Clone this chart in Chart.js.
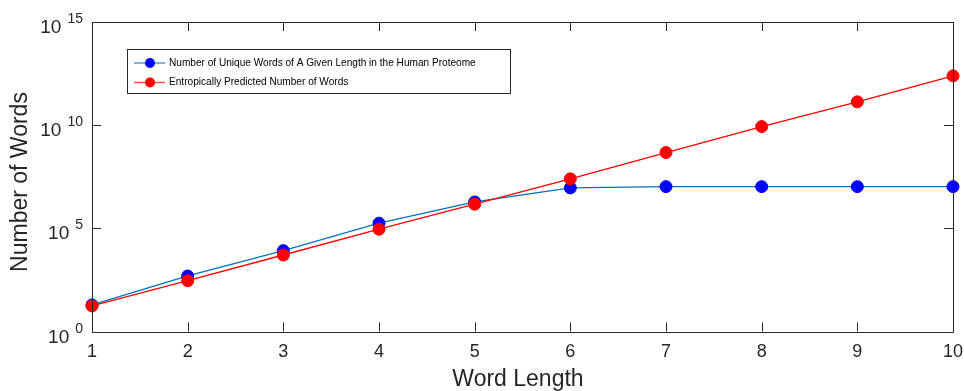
<!DOCTYPE html>
<html>
<head>
<meta charset="utf-8">
<script src="https://cdn.jsdelivr.net/npm/chart.js@4/dist/chart.umd.min.js"></script>
<style>
html,body{margin:0;padding:0;background:#fff;}
#wrap{width:964px;height:391px;position:relative;}
</style>
</head>
<body>
<div id="wrap"><canvas id="c" width="964" height="391"></canvas></div>
<script>
const wordLengths = [1, 2, 3, 4, 5, 6, 7, 8, 9, 10];
const uniqueWords = [19.5, 490, 8300, 178000, 1.9e6, 9.1e6, 1.05e7, 1.05e7, 1.05e7, 1.05e7];
const predictedWords = [17.4, 290, 5100, 91000, 1.48e6, 2.5e7, 4.7e8, 8.5e9, 1.35e11, 2.45e12];
const yTickExponents = [0, 5, 10, 15];
const xTicks = [1, 2, 3, 4, 5, 6, 7, 8, 9, 10];
const seriesNames = ['Number of Unique Words of A Given Length in the Human Proteome', 'Entropically Predicted Number of Words'];
const xTitle = 'Word Length';
const yTitle = 'Number of Words';

const AX = '#262626';
const FONT = '"Liberation Sans", Arial, Helvetica, sans-serif';

const frame = {
  id: 'frame',
  afterDatasetsDraw(chart) {
    const {ctx, chartArea: a, scales: {x, y}} = chart;
    ctx.save();
    ctx.strokeStyle = AX;
    ctx.lineWidth = 1;
    ctx.beginPath();
    ctx.rect(Math.round(a.left) + 0.5, Math.round(a.top) + 0.5, Math.round(a.right - a.left), Math.round(a.bottom - a.top));
    ctx.stroke();
    // ticks inward
    ctx.beginPath();
    xTicks.forEach(v => {
      const px = Math.round(x.getPixelForValue(v)) + 0.5;
      ctx.moveTo(px, a.bottom); ctx.lineTo(px, a.bottom - 9);
      ctx.moveTo(px, a.top); ctx.lineTo(px, a.top + 9);
    });
    yTickExponents.forEach(e => {
      const py = Math.round(y.getPixelForValue(Math.pow(10, e))) + 0.5;
      ctx.moveTo(a.left, py); ctx.lineTo(a.left + 9, py);
      ctx.moveTo(a.right, py); ctx.lineTo(a.right - 9, py);
    });
    ctx.stroke();
    // x tick labels
    ctx.fillStyle = AX;
    ctx.font = '18px ' + FONT;
    ctx.textAlign = 'center';
    ctx.textBaseline = 'middle';
    xTicks.forEach(v => {
      ctx.fillText(String(v), x.getPixelForValue(v), 352);
    });
    // y tick labels 10^e
    yTickExponents.forEach(e => {
      const py = y.getPixelForValue(Math.pow(10, e));
      const exp = String(e);
      ctx.font = '14px ' + FONT;
      const ew = ctx.measureText(exp).width;
      const right = 83;
      ctx.textAlign = 'left';
      ctx.textBaseline = 'alphabetic';
      ctx.fillText(exp, right - ew, py + 1);
      ctx.font = '19px ' + FONT;
      ctx.textAlign = 'right';
      ctx.fillText('10', right - ew - 6, py + 11);
    });
    // axis titles
    ctx.font = '23px ' + FONT;
    ctx.textAlign = 'center';
    ctx.textBaseline = 'middle';
    ctx.fillText(xTitle, 518, 380);
    ctx.save();
    ctx.translate(21, 182);
    ctx.rotate(-Math.PI / 2);
    ctx.fillText(yTitle, 0, 0);
    ctx.restore();
    // legend
    const lx = 127.5, ly = 49.5, lw = 383, lh = 44;
    ctx.fillStyle = '#fff';
    ctx.fillRect(lx, ly, lw, lh);
    ctx.strokeStyle = AX;
    ctx.strokeRect(lx, ly, lw, lh);
    const entries = [
      {name: seriesNames[0], line: '#0072BD', mark: '#0000FF', y: 63},
      {name: seriesNames[1], line: '#FF0000', mark: '#FF0000', y: 82.5}
    ];
    entries.forEach(en => {
      ctx.strokeStyle = en.line;
      ctx.globalAlpha = 0.7;
      ctx.lineWidth = 1.5;
      ctx.beginPath();
      ctx.moveTo(134, en.y); ctx.lineTo(165, en.y);
      ctx.stroke();
      ctx.globalAlpha = 1;
      ctx.fillStyle = en.mark;
      ctx.beginPath();
      ctx.arc(150, en.y, 5, 0, Math.PI * 2);
      ctx.fill();
      ctx.fillStyle = '#000';
      ctx.font = '10.1px ' + FONT;
      ctx.textAlign = 'left';
      ctx.textBaseline = 'middle';
      ctx.fillText(en.name, 169, en.y);
    });
    ctx.restore();
  }
};

new Chart(document.getElementById('c'), {
  type: 'line',
  data: {
    datasets: [
      {
        label: seriesNames[0],
        data: wordLengths.map((v, i) => ({x: v, y: uniqueWords[i]})),
        borderColor: '#0072BD',
        backgroundColor: '#0000FF',
        pointBackgroundColor: '#0000FF',
        pointBorderColor: '#0000FF',
        pointRadius: 6,
        pointBorderWidth: 1,
        borderWidth: 1.3,
        tension: 0,
        order: 1
      },
      {
        label: seriesNames[1],
        data: wordLengths.map((v, i) => ({x: v, y: predictedWords[i]})),
        borderColor: '#FF0000',
        backgroundColor: '#FF0000',
        pointBackgroundColor: '#FF0000',
        pointBorderColor: '#FF0000',
        pointRadius: 6,
        pointBorderWidth: 1,
        borderWidth: 1.3,
        tension: 0,
        order: 0
      }
    ]
  },
  options: {
    responsive: false,
    animation: false,
    clip: false,
    layout: {padding: {top: 22, right: 11, left: 0, bottom: 0}},
    plugins: {legend: {display: false}, tooltip: {enabled: false}},
    scales: {
      x: {
        type: 'linear', min: 1, max: 10,
        grid: {display: false}, border: {display: false},
        ticks: {display: false},
        afterFit(s) { s.height = 391 - 331.5; }
      },
      y: {
        type: 'logarithmic', min: 1, max: 1e15,
        grid: {display: false}, border: {display: false},
        ticks: {display: false},
        afterFit(s) { s.width = 92; }
      }
    }
  },
  plugins: [frame]
});
</script>
</body>
</html>
